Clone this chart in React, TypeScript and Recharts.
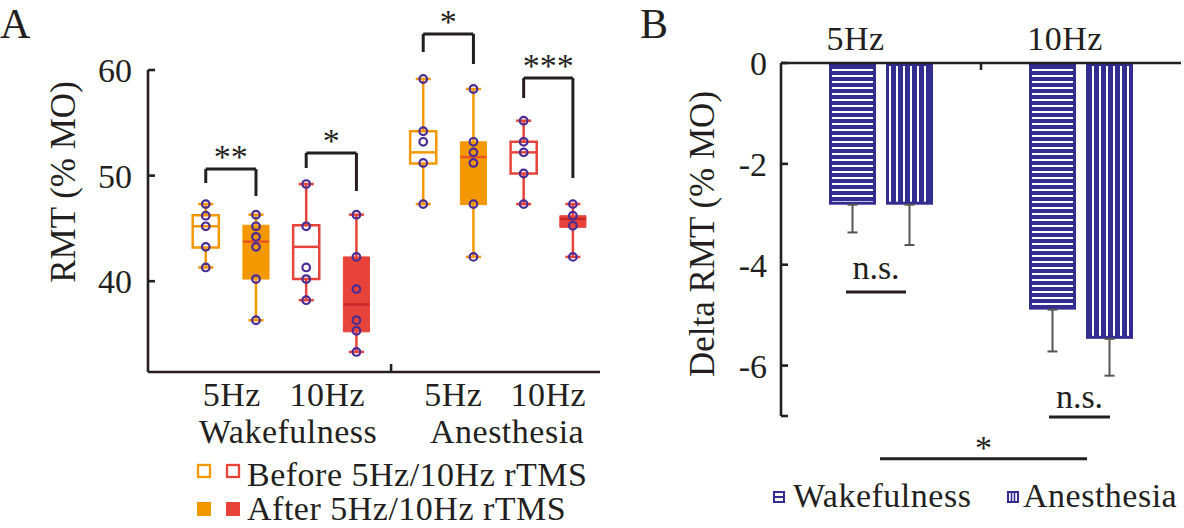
import React from 'react';
import {
  ComposedChart,
  BarChart,
  Bar,
  Scatter,
  XAxis,
  YAxis,
  ReferenceLine,
  ReferenceArea,
  ErrorBar,
  Legend,
} from 'recharts';

const FONT = '"Liberation Serif", "Times New Roman", serif';
const INK = '#231F20';
const ORANGE = '#F39800';
const RED = '#E8433A';
const ORANGE_MED = '#E8561E';
const RED_MED = '#C62828';
const PURPLE = '#4B2C92';
const BLUE = '#332D91';
const FS = 34;
const FS_LABEL = 35;
const LS = 0.5;

// ---------------- Panel A data ----------------
const stateLabels = ['Wakefulness', 'Anesthesia'];
const freqLabels = ['5Hz', '10Hz', '5Hz', '10Hz'];
const phaseLabels = ['Before 5Hz/10Hz rTMS', 'After 5Hz/10Hz rTMS'];
// box order: W5 before, W5 after, W10 before, W10 after, A5 before, A5 after, A10 before, A10 after
const boxMin = [41.3, 36.3, 38.2, 33.3, 47.3, 42.3, 47.3, 42.3];
const boxQ1 = [43.2, 40.2, 40.2, 35.2, 51.15, 47.25, 50.2, 45.1];
const boxMedian = [45.2, 43.75, 43.25, 37.8, 52.2, 51.75, 52.2, 45.9];
const boxQ3 = [46.25, 45.3, 45.3, 42.3, 54.2, 53.2, 53.2, 46.2];
const boxMax = [47.3, 46.3, 49.2, 46.3, 59.15, 58.2, 55.2, 47.3];
const boxPoints = [
  [47.3, 46.2, 45.2, 43.25, 41.3],
  [46.3, 45.2, 44.2, 43.25, 40.2, 36.3],
  [49.2, 45.2, 41.3, 40.2, 38.2],
  [46.3, 42.3, 39.25, 36.3, 35.3, 33.3],
  [59.15, 54.2, 53.2, 51.2, 47.3],
  [58.2, 53.2, 52.2, 51.2, 47.3, 42.3],
  [55.2, 53.2, 52.2, 50.2, 47.3],
  [47.3, 46.2, 45.25, 42.3],
];
const sigLabelsA = ['**', '*', '*', '***'];

// ---------------- Panel A layout ----------------
const X_POS = [1.15, 2.15, 3.15, 4.15, 5.48, 6.48, 7.48, 8.46];
const HALF_W = 0.26;
const CAP_W = 0.15;
const FREQ_TICK_POS = [1.67, 3.57, 6.08, 7.97];
const GROUP_TICK_POS = [2.79, 7.15];
const DIVIDER_A = 4.84;
// bracket: [top, leftEnd, rightEnd] in y units
const BRACKETS_A = [
  [50.63, 49.3, 48.07],
  [52.14, 50.72, 48.54],
  [63.41, 61.7, 60.57],
  [59.24, 57.35, 49.77],
];

// ---------------- Panel B data ----------------
const freqs = ['5Hz', '10Hz'];
const wakeDelta = [-2.81, -4.89];
const anesDelta = [-2.81, -5.47];
const wakeSem = [0.55, 0.83];
const anesSem = [0.8, 0.73];
const seriesLabelsB = ['Wakefulness', 'Anesthesia'];

const barData = freqs.map((f, i) => ({
  freq: f,
  pos: i + 0.5,
  wake: wakeDelta[i],
  anes: anesDelta[i],
  wakeErr: [wakeSem[i], 0],
  anesErr: [anesSem[i], 0],
}));

// ---------------- Panel B layout ----------------
const B_LABEL_POS = [0.373, 1.42];
const DIVIDER_B = 1;

const scatterData = boxPoints.flatMap((pts, i) => pts.map((v) => ({ x: X_POS[i], y: v })));

const colorOf = (i: number) => (Math.floor(i / 2) % 2 === 0 ? ORANGE : RED);
const filledOf = (i: number) => i % 2 === 1;
const medColorOf = (i: number) => (filledOf(i) ? (colorOf(i) === ORANGE ? ORANGE_MED : RED_MED) : colorOf(i));

const PointShape = (p: any) => (
  <circle cx={p.cx} cy={p.cy} r={3.8} fill="none" stroke={PURPLE} strokeWidth={2.2} />
);

const ATick = (props: any) => {
  const { x, y, payload } = props;
  const v = payload.value;
  const fi = FREQ_TICK_POS.indexOf(v);
  if (fi >= 0)
    return (
      <text x={x} y={y + 34} textAnchor="middle" fontSize={FS} letterSpacing={LS} fontFamily={FONT} fill={INK}>
        {freqLabels[fi]}
      </text>
    );
  const gi = GROUP_TICK_POS.indexOf(v);
  if (gi >= 0)
    return (
      <text x={x} y={y + 71} textAnchor="middle" fontSize={FS} letterSpacing={LS} fontFamily={FONT} fill={INK}>
        {stateLabels[gi]}
      </text>
    );
  return <line x1={x} x2={x} y1={y} y2={y - 8} stroke={INK} strokeWidth={2.5} />;
};

const BTick = (props: any) => {
  const { x, y, payload } = props;
  const v = payload.value;
  const li = B_LABEL_POS.indexOf(v);
  if (li >= 0)
    return (
      <text x={x} y={y - 13} textAnchor="middle" fontSize={FS} letterSpacing={LS} fontFamily={FONT} fill={INK}>
        {freqs[li]}
      </text>
    );
  return <line x1={x} x2={x} y1={y} y2={y + 7} stroke={INK} strokeWidth={2.5} />;
};

const LegendA = () => (
  <svg width={420} height={73} style={{ display: 'block', overflow: 'visible' }}>
    <rect x={9} y={11} width={12} height={12} fill="#fff" stroke={ORANGE} strokeWidth={2.3} />
    <rect x={38} y={11} width={12} height={12} fill="#fff" stroke={RED} strokeWidth={2.3} />
    <text x={58} y={32} fontSize={FS} letterSpacing={LS} fontFamily={FONT} fill={INK}>
      {phaseLabels[0]}
    </text>
    <rect x={8} y={48} width={14} height={14} fill={ORANGE} />
    <rect x={37} y={48} width={14} height={14} fill={RED} />
    <text x={58} y={66} fontSize={FS} letterSpacing={LS} fontFamily={FONT} fill={INK}>
      {phaseLabels[1]}
    </text>
  </svg>
);

const LegendB = () => (
  <svg width={420} height={50} style={{ display: 'block', overflow: 'visible' }}>
    <rect x={14} y={22} width={10} height={10} fill="#fff" stroke={BLUE} strokeWidth={2} />
    <line x1={14} x2={24} y1={27} y2={27} stroke={BLUE} strokeWidth={2} />
    <text x={33} y={37} fontSize={FS} letterSpacing={LS} fontFamily={FONT} fill={INK}>
      {seriesLabelsB[0]}
    </text>
    <rect x={248} y={22} width={10} height={10} fill="#fff" stroke={BLUE} strokeWidth={2} />
    <line x1={251.5} x2={251.5} y1={22} y2={32} stroke={BLUE} strokeWidth={1.6} />
    <line x1={254.5} x2={254.5} y1={22} y2={32} stroke={BLUE} strokeWidth={1.6} />
    <text x={263} y={37} fontSize={FS} letterSpacing={LS} fontFamily={FONT} fill={INK}>
      {seriesLabelsB[1]}
    </text>
  </svg>
);

const patternBar = (pid: string) => (props: any) => {
  const { x, y, width, height } = props;
  const top = Math.min(y, y + height);
  const h = Math.abs(height);
  return (
    <g>
      <rect x={x} y={top} width={width} height={h} fill={BLUE} />
      <rect x={x + 3} y={top + 3} width={Math.max(0, width - 6)} height={Math.max(0, h - 6)} fill={`url(#${pid})`} />
    </g>
  );
};

const axisStyle = { stroke: INK, strokeWidth: 2.6 };
const tickStyle = { fontSize: FS, fontFamily: FONT, fill: INK };

const sigLabel = (text: string, offset: number) => ({
  value: text,
  position: 'top' as const,
  offset,
  fontSize: FS,
  fontFamily: FONT,
  fill: INK,
});

const rotatedLabel = (text: string, dx: number, dy: number) => (p: any) => {
  const vb = p.viewBox || {};
  const cx = (vb.x || 0) + dx;
  const cy = (vb.y || 0) + dy;
  return (
    <text
      transform={`translate(${cx}, ${cy}) rotate(-90)`}
      textAnchor="middle"
      dominantBaseline="central"
      fontSize={FS_LABEL}
      fontFamily={FONT}
      fill={INK}
    >
      {text}
    </text>
  );
};

function PanelA() {
  return (
    <ComposedChart width={620} height={528} margin={{ top: 70, right: 20, bottom: 76, left: 0 }}>
      <XAxis
        type="number"
        dataKey="x"
        domain={[0, 9]}
        allowDataOverflow
        ticks={[...FREQ_TICK_POS, DIVIDER_A, ...GROUP_TICK_POS]}
        interval={0}
        tick={ATick}
        tickLine={false}
        tickSize={0}
        tickMargin={0}
        axisLine={axisStyle}
        height={80}
      />
      <YAxis
        type="number"
        domain={[31.4, 60]}
        allowDataOverflow
        ticks={[40, 50, 60]}
        interval={0}
        width={148}
        axisLine={axisStyle}
        tickLine={axisStyle}
        tickSize={-7}
        tickMargin={23}
        tick={tickStyle}
        label={rotatedLabel('RMT (% MO)', 63, 112)}
      />
      {X_POS.map((xp, i) => (
        <ReferenceLine
          key={`wl${i}`}
          segment={[{ x: xp, y: boxMin[i] }, { x: xp, y: boxQ1[i] }]}
          stroke={colorOf(i)}
          strokeWidth={2.5}
          ifOverflow="visible"
        />
      ))}
      {X_POS.map((xp, i) => (
        <ReferenceLine
          key={`wh${i}`}
          segment={[{ x: xp, y: boxQ3[i] }, { x: xp, y: boxMax[i] }]}
          stroke={colorOf(i)}
          strokeWidth={2.5}
          ifOverflow="visible"
        />
      ))}
      {X_POS.map((xp, i) => (
        <ReferenceLine
          key={`cl${i}`}
          segment={[{ x: xp - CAP_W, y: boxMin[i] }, { x: xp + CAP_W, y: boxMin[i] }]}
          stroke={colorOf(i)}
          strokeWidth={2.5}
          ifOverflow="visible"
        />
      ))}
      {X_POS.map((xp, i) => (
        <ReferenceLine
          key={`ch${i}`}
          segment={[{ x: xp - CAP_W, y: boxMax[i] }, { x: xp + CAP_W, y: boxMax[i] }]}
          stroke={colorOf(i)}
          strokeWidth={2.5}
          ifOverflow="visible"
        />
      ))}
      {X_POS.map((xp, i) => (
        <ReferenceArea
          key={`box${i}`}
          x1={xp - HALF_W}
          x2={xp + HALF_W}
          y1={boxQ1[i]}
          y2={boxQ3[i]}
          fill={filledOf(i) ? colorOf(i) : '#ffffff'}
          fillOpacity={1}
          stroke={colorOf(i)}
          strokeWidth={filledOf(i) ? 1 : 2.5}
          ifOverflow="visible"
        />
      ))}
      {X_POS.map((xp, i) => (
        <ReferenceLine
          key={`med${i}`}
          segment={[{ x: xp - HALF_W, y: boxMedian[i] }, { x: xp + HALF_W, y: boxMedian[i] }]}
          stroke={medColorOf(i)}
          strokeWidth={2.5}
          ifOverflow="visible"
        />
      ))}
      {BRACKETS_A.map((b, k) => {
        const xl = X_POS[2 * k];
        const xr = X_POS[2 * k + 1];
        return (
          <React.Fragment key={`br${k}`}>
            <ReferenceLine
              segment={[{ x: xl, y: b[1] }, { x: xl, y: b[0] }]}
              stroke={INK}
              strokeWidth={3}
              ifOverflow="visible"
            />
            <ReferenceLine
              segment={[{ x: xr, y: b[2] }, { x: xr, y: b[0] }]}
              stroke={INK}
              strokeWidth={3}
              ifOverflow="visible"
            />
            <ReferenceLine
              segment={[{ x: xl, y: b[0] }, { x: xr, y: b[0] }]}
              stroke={INK}
              strokeWidth={3}
              ifOverflow="visible"
              label={sigLabel(sigLabelsA[k], 1)}
            />
          </React.Fragment>
        );
      })}
      <Scatter data={scatterData} dataKey="y" shape={PointShape} isAnimationActive={false} legendType="square" />
      <Legend
        layout="horizontal"
        verticalAlign="middle"
        align="center"
        content={LegendA}
        wrapperStyle={{ left: 189, top: 454, width: 420, height: 73 }}
      />
    </ComposedChart>
  );
}

function PanelB() {
  return (
    <BarChart
      width={564}
      height={528}
      data={barData}
      margin={{ top: 23, right: 3, bottom: 112, left: 0 }}
      barSize={47}
      barGap={10}
    >
      <defs>
        <pattern id="hStripe" patternUnits="userSpaceOnUse" width={6} height={6}>
          <rect width={6} height={6} fill={BLUE} />
          <rect y={3} width={6} height={2} fill="#ffffff" />
        </pattern>
        <pattern id="vStripe" patternUnits="userSpaceOnUse" width={7} height={7}>
          <rect width={7} height={7} fill={BLUE} />
          <rect x={3} width={2} height={7} fill="#ffffff" />
        </pattern>
      </defs>
      <XAxis xAxisId="cat" dataKey="freq" type="category" hide />
      <XAxis
        xAxisId="num"
        dataKey="pos"
        type="number"
        orientation="top"
        domain={[0, 2]}
        allowDataOverflow
        ticks={[B_LABEL_POS[0], DIVIDER_B, B_LABEL_POS[1]]}
        interval={0}
        tick={BTick}
        tickLine={false}
        tickSize={0}
        tickMargin={0}
        axisLine={axisStyle}
        height={40}
      />
      <YAxis
        type="number"
        domain={[-7, 0]}
        allowDataOverflow
        ticks={[0, -2, -4, -6, -7]}
        interval={0}
        tickFormatter={(v: number) => (v === -7 ? '' : String(v))}
        width={161}
        axisLine={axisStyle}
        tickLine={axisStyle}
        tickSize={-7}
        tickMargin={21}
        tick={tickStyle}
        label={rotatedLabel('Delta RMT (% MO)', 82, 171)}
      />
      <Bar xAxisId="cat" dataKey="wake" shape={patternBar('hStripe')} isAnimationActive={false}>
        <ErrorBar dataKey="wakeErr" direction="y" width={5} stroke="#555555" strokeWidth={2} />
      </Bar>
      <Bar xAxisId="cat" dataKey="anes" shape={patternBar('vStripe')} isAnimationActive={false}>
        <ErrorBar dataKey="anesErr" direction="y" width={5} stroke="#555555" strokeWidth={2} />
      </Bar>
      <ReferenceLine
        xAxisId="num"
        segment={[{ x: 0.325, y: -4.54 }, { x: 0.625, y: -4.54 }]}
        stroke={INK}
        strokeWidth={3}
        ifOverflow="visible"
        label={sigLabel('n.s.', 13)}
      />
      <ReferenceLine
        xAxisId="num"
        segment={[{ x: 1.34, y: -7.02 }, { x: 1.645, y: -7.02 }]}
        stroke={INK}
        strokeWidth={3}
        ifOverflow="visible"
        label={sigLabel('n.s.', 9)}
      />
      <ReferenceLine
        xAxisId="num"
        segment={[{ x: 0.495, y: -7.85 }, { x: 1.53, y: -7.85 }]}
        stroke={INK}
        strokeWidth={3}
        ifOverflow="visible"
        label={sigLabel('*', 0)}
      />
      <Legend
        layout="horizontal"
        verticalAlign="middle"
        align="center"
        content={LegendB}
        wrapperStyle={{ left: 140, top: 470, width: 420, height: 50 }}
      />
    </BarChart>
  );
}

export default function App() {
  return (
    <div
      style={{
        position: 'absolute',
        left: 0,
        top: 0,
        width: 1184,
        height: 528,
        background: '#ffffff',
        overflow: 'hidden',
        fontFamily: FONT,
      }}
    >
      <div style={{ position: 'absolute', left: 0, top: 0 }}>
        <PanelA />
      </div>
      <div style={{ position: 'absolute', left: 620, top: 0 }}>
        <PanelB />
      </div>
      <svg
        width={1184}
        height={528}
        style={{ position: 'absolute', left: 0, top: 0, pointerEvents: 'none' }}
      >
        <text x={0} y={38} fontSize={42} fontFamily={FONT} fill={INK}>
          A
        </text>
        <text x={640} y={38} fontSize={42} fontFamily={FONT} fill={INK}>
          B
        </text>
      </svg>
    </div>
  );
}
